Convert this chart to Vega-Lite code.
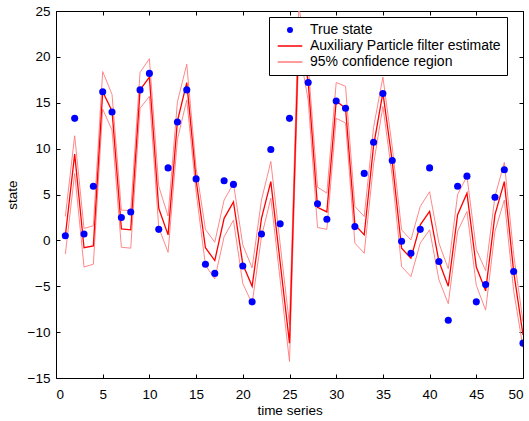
{
  "$schema": "https://vega.github.io/schema/vega-lite/v6.json",
  "width": 467,
  "height": 367,
  "autosize": "none",
  "padding": {"left": 56, "top": 11, "right": 6, "bottom": 43},
  "background": "white",
  "config": {
    "font": "Liberation Sans",
    "view": {"stroke": null},
    "axis": {
      "grid": false,
      "domainColor": "black",
      "domainWidth": 1,
      "tickColor": "black",
      "tickSize": -4,
      "tickWidth": 1,
      "labelColor": "black",
      "labelFontSize": 13.5,
      "labelFont": "Liberation Sans",
      "titleFont": "Liberation Sans",
      "titleFontSize": 13.5,
      "titleFontWeight": "normal",
      "titleColor": "black"
    }
  },
  "datasets": {
    "truth": [
      {"t": 1, "y": 0.5}, {"t": 2, "y": 13.3}, {"t": 3, "y": 0.7}, {"t": 4, "y": 5.9}, {"t": 5, "y": 16.2},
      {"t": 6, "y": 14.0}, {"t": 7, "y": 2.5}, {"t": 8, "y": 3.1}, {"t": 9, "y": 16.4}, {"t": 10, "y": 18.2},
      {"t": 11, "y": 1.2}, {"t": 12, "y": 7.9}, {"t": 13, "y": 12.9}, {"t": 14, "y": 16.4}, {"t": 15, "y": 6.7},
      {"t": 16, "y": -2.6}, {"t": 17, "y": -3.6}, {"t": 18, "y": 6.5}, {"t": 19, "y": 6.1}, {"t": 20, "y": -2.8},
      {"t": 21, "y": -6.7}, {"t": 22, "y": 0.7}, {"t": 23, "y": 9.9}, {"t": 24, "y": 1.8}, {"t": 25, "y": 13.3},
      {"t": 26, "y": 22.5}, {"t": 27, "y": 17.2}, {"t": 28, "y": 4.0}, {"t": 29, "y": 2.3}, {"t": 30, "y": 15.2},
      {"t": 31, "y": 14.4}, {"t": 32, "y": 1.5}, {"t": 33, "y": 7.3}, {"t": 34, "y": 10.7}, {"t": 35, "y": 16.0},
      {"t": 36, "y": 8.7}, {"t": 37, "y": -0.1}, {"t": 38, "y": -1.4}, {"t": 39, "y": 1.2}, {"t": 40, "y": 7.9},
      {"t": 41, "y": -2.3}, {"t": 42, "y": -8.7}, {"t": 43, "y": 5.9}, {"t": 44, "y": 7.0}, {"t": 45, "y": -6.7},
      {"t": 46, "y": -4.8}, {"t": 47, "y": 4.7}, {"t": 48, "y": 7.7}, {"t": 49, "y": -3.4}, {"t": 50, "y": -11.2}
    ],
    "estimate": [
      {"t": 1, "y": 0.5}, {"t": 2, "y": 9.4}, {"t": 3, "y": -0.8}, {"t": 4, "y": -0.6}, {"t": 5, "y": 16.2},
      {"t": 6, "y": 14.1}, {"t": 7, "y": 1.25}, {"t": 8, "y": 1.15}, {"t": 9, "y": 16.4}, {"t": 10, "y": 17.8},
      {"t": 11, "y": 3.5}, {"t": 12, "y": 0.6}, {"t": 13, "y": 13.0}, {"t": 14, "y": 17.2}, {"t": 15, "y": 6.6},
      {"t": 16, "y": -0.8}, {"t": 17, "y": -2.2}, {"t": 18, "y": 2.4}, {"t": 19, "y": 4.2}, {"t": 20, "y": -2.6},
      {"t": 21, "y": -5.0}, {"t": 22, "y": 2.4}, {"t": 23, "y": 6.4}, {"t": 24, "y": -2.4}, {"t": 25, "y": -11.2},
      {"t": 26, "y": 23.0}, {"t": 27, "y": 17.3}, {"t": 28, "y": 3.6}, {"t": 29, "y": 3.1}, {"t": 30, "y": 15.2},
      {"t": 31, "y": 14.4}, {"t": 32, "y": 1.7}, {"t": 33, "y": 0.6}, {"t": 34, "y": 10.3}, {"t": 35, "y": 16.1},
      {"t": 36, "y": 8.6}, {"t": 37, "y": -0.85}, {"t": 38, "y": -1.95}, {"t": 39, "y": 1.7}, {"t": 40, "y": 3.15},
      {"t": 41, "y": -2.3}, {"t": 42, "y": -5.0}, {"t": 43, "y": 2.8}, {"t": 44, "y": 5.15}, {"t": 45, "y": -2.9},
      {"t": 46, "y": -5.5}, {"t": 47, "y": 2.8}, {"t": 48, "y": 6.4}, {"t": 49, "y": -3.4}, {"t": 50, "y": -10.3}
    ],
    "bounds": [
      {"t": 1, "bound": "upper", "y": 2.6}, {"t": 2, "bound": "upper", "y": 11.4}, {"t": 3, "bound": "upper", "y": 1.3}, {"t": 4, "bound": "upper", "y": 1.6}, {"t": 5, "bound": "upper", "y": 18.4},
      {"t": 6, "bound": "upper", "y": 15.9}, {"t": 7, "bound": "upper", "y": 3.3}, {"t": 8, "bound": "upper", "y": 3.25}, {"t": 9, "bound": "upper", "y": 18.3}, {"t": 10, "bound": "upper", "y": 19.8},
      {"t": 11, "bound": "upper", "y": 5.9}, {"t": 12, "bound": "upper", "y": 2.65}, {"t": 13, "bound": "upper", "y": 15.1}, {"t": 14, "bound": "upper", "y": 19.2}, {"t": 15, "bound": "upper", "y": 7.9},
      {"t": 16, "bound": "upper", "y": 1.2}, {"t": 17, "bound": "upper", "y": -0.2}, {"t": 18, "bound": "upper", "y": 4.4}, {"t": 19, "bound": "upper", "y": 6.2}, {"t": 20, "bound": "upper", "y": -0.5},
      {"t": 21, "bound": "upper", "y": -3.0}, {"t": 22, "bound": "upper", "y": 4.4}, {"t": 23, "bound": "upper", "y": 8.6}, {"t": 24, "bound": "upper", "y": -0.4}, {"t": 25, "bound": "upper", "y": -9.2},
      {"t": 26, "bound": "upper", "y": 25.5}, {"t": 27, "bound": "upper", "y": 19.2}, {"t": 28, "bound": "upper", "y": 5.8}, {"t": 29, "bound": "upper", "y": 5.15}, {"t": 30, "bound": "upper", "y": 17.2},
      {"t": 31, "bound": "upper", "y": 16.8}, {"t": 32, "bound": "upper", "y": 3.7}, {"t": 33, "bound": "upper", "y": 2.6}, {"t": 34, "bound": "upper", "y": 12.3}, {"t": 35, "bound": "upper", "y": 17.8},
      {"t": 36, "bound": "upper", "y": 10.2}, {"t": 37, "bound": "upper", "y": 1.15}, {"t": 38, "bound": "upper", "y": 0.05}, {"t": 39, "bound": "upper", "y": 3.7}, {"t": 40, "bound": "upper", "y": 5.3},
      {"t": 41, "bound": "upper", "y": -0.3}, {"t": 42, "bound": "upper", "y": -3.1}, {"t": 43, "bound": "upper", "y": 5.0}, {"t": 44, "bound": "upper", "y": 7.0}, {"t": 45, "bound": "upper", "y": -1.0},
      {"t": 46, "bound": "upper", "y": -3.3}, {"t": 47, "bound": "upper", "y": 4.8}, {"t": 48, "bound": "upper", "y": 8.5}, {"t": 49, "bound": "upper", "y": -1.5}, {"t": 50, "bound": "upper", "y": -8.9},
      {"t": 1, "bound": "lower", "y": -1.5}, {"t": 2, "bound": "lower", "y": 7.3}, {"t": 3, "bound": "lower", "y": -2.9}, {"t": 4, "bound": "lower", "y": -2.6}, {"t": 5, "bound": "lower", "y": 14.3},
      {"t": 6, "bound": "lower", "y": 12.0}, {"t": 7, "bound": "lower", "y": -0.75}, {"t": 8, "bound": "lower", "y": -0.85}, {"t": 9, "bound": "lower", "y": 14.4}, {"t": 10, "bound": "lower", "y": 15.7},
      {"t": 11, "bound": "lower", "y": 1.4}, {"t": 12, "bound": "lower", "y": -1.3}, {"t": 13, "bound": "lower", "y": 11.0}, {"t": 14, "bound": "lower", "y": 15.3}, {"t": 15, "bound": "lower", "y": 5.3},
      {"t": 16, "bound": "lower", "y": -2.7}, {"t": 17, "bound": "lower", "y": -4.2}, {"t": 18, "bound": "lower", "y": 0.4}, {"t": 19, "bound": "lower", "y": 2.2}, {"t": 20, "bound": "lower", "y": -4.7},
      {"t": 21, "bound": "lower", "y": -6.9}, {"t": 22, "bound": "lower", "y": 0.4}, {"t": 23, "bound": "lower", "y": 4.6}, {"t": 24, "bound": "lower", "y": -4.3}, {"t": 25, "bound": "lower", "y": -13.2},
      {"t": 26, "bound": "lower", "y": 21.0}, {"t": 27, "bound": "lower", "y": 15.3}, {"t": 28, "bound": "lower", "y": 1.4}, {"t": 29, "bound": "lower", "y": 1.2}, {"t": 30, "bound": "lower", "y": 13.3},
      {"t": 31, "bound": "lower", "y": 12.8}, {"t": 32, "bound": "lower", "y": -0.3}, {"t": 33, "bound": "lower", "y": -1.4}, {"t": 34, "bound": "lower", "y": 8.3}, {"t": 35, "bound": "lower", "y": 14.6},
      {"t": 36, "bound": "lower", "y": 7.0}, {"t": 37, "bound": "lower", "y": -2.85}, {"t": 38, "bound": "lower", "y": -3.95}, {"t": 39, "bound": "lower", "y": -0.3}, {"t": 40, "bound": "lower", "y": 1.15},
      {"t": 41, "bound": "lower", "y": -4.3}, {"t": 42, "bound": "lower", "y": -6.9}, {"t": 43, "bound": "lower", "y": 1.0}, {"t": 44, "bound": "lower", "y": 3.15}, {"t": 45, "bound": "lower", "y": -4.9},
      {"t": 46, "bound": "lower", "y": -7.6}, {"t": 47, "bound": "lower", "y": 1.0}, {"t": 48, "bound": "lower", "y": 4.4}, {"t": 49, "bound": "lower", "y": -5.5}, {"t": 50, "bound": "lower", "y": -11.7}
    ]
  },
  "layer": [
    {
      "data": {"name": "bounds"},
      "mark": {"type": "line", "strokeWidth": 0.9, "clip": true},
      "encoding": {
        "x": {"field": "t", "type": "quantitative", "scale": {"domain": [0, 50], "nice": false}, "axis": null},
        "y": {"field": "y", "type": "quantitative", "scale": {"domain": [-15, 25], "nice": false}, "axis": null},
        "detail": {"field": "bound"},
        "color": {"datum": "95% confidence region", "type": "nominal"}
      }
    },
    {
      "data": {"name": "estimate"},
      "mark": {"type": "line", "strokeWidth": 1.3, "clip": true},
      "encoding": {
        "x": {"field": "t", "type": "quantitative", "axis": {"orient": "top", "labels": false, "title": null, "values": [0, 5, 10, 15, 20, 25, 30, 35, 40, 45, 50]}},
        "y": {"field": "y", "type": "quantitative", "axis": {"orient": "right", "labels": false, "title": null, "values": [-15, -10, -5, 0, 5, 10, 15, 20, 25]}},
        "color": {"datum": "Auxiliary Particle filter estimate", "type": "nominal"}
      }
    },
    {
      "data": {"name": "truth"},
      "mark": {"type": "point", "filled": true, "size": 50, "opacity": 1, "clip": true},
      "encoding": {
        "x": {"field": "t", "type": "quantitative", "axis": {"orient": "bottom", "title": "time series", "values": [0, 5, 10, 15, 20, 25, 30, 35, 40, 45, 50], "labelPadding": 13, "titleY": 25, "titleBaseline": "top"}},
        "y": {"field": "y", "type": "quantitative", "axis": {"orient": "left", "title": "state", "values": [-15, -10, -5, 0, 5, 10, 15, 20, 25], "labelPadding": 10, "titlePadding": 8}},
        "color": {
          "datum": "True state",
          "type": "nominal",
          "scale": {"domain": ["True state", "Auxiliary Particle filter estimate", "95% confidence region"], "range": ["#0000ff", "#ff0000", "#ff7a7a"]},
          "legend": {
            "title": null,
            "orient": "none",
            "legendX": 213,
            "legendY": 6,
            "fillColor": "white",
            "strokeColor": "black",
            "padding": 6,
            "symbolOffset": 8,
            "labelOffset": 13,
            "labelFontSize": 14,
            "labelColor": "black",
            "labelLimit": 400,
            "rowPadding": 2,
            "symbolSize": 20,
            "encode": {
              "symbols": {
                "update": {
                  "stroke": {"scale": "color", "field": "value"},
                  "strokeWidth": {"value": 1.2},
                  "opacity": {"value": 1}
                }
              }
            }
          }
        },
        "shape": {
          "datum": "True state",
          "type": "nominal",
          "scale": {"domain": ["True state", "Auxiliary Particle filter estimate", "95% confidence region"], "range": ["circle", "M-5.5,0H5.5", "M-5.5,0H5.5"]},
          "legend": {"title": null}
        }
      }
    }
  ],
  "resolve": {"axis": {"x": "independent", "y": "independent"}}
}
